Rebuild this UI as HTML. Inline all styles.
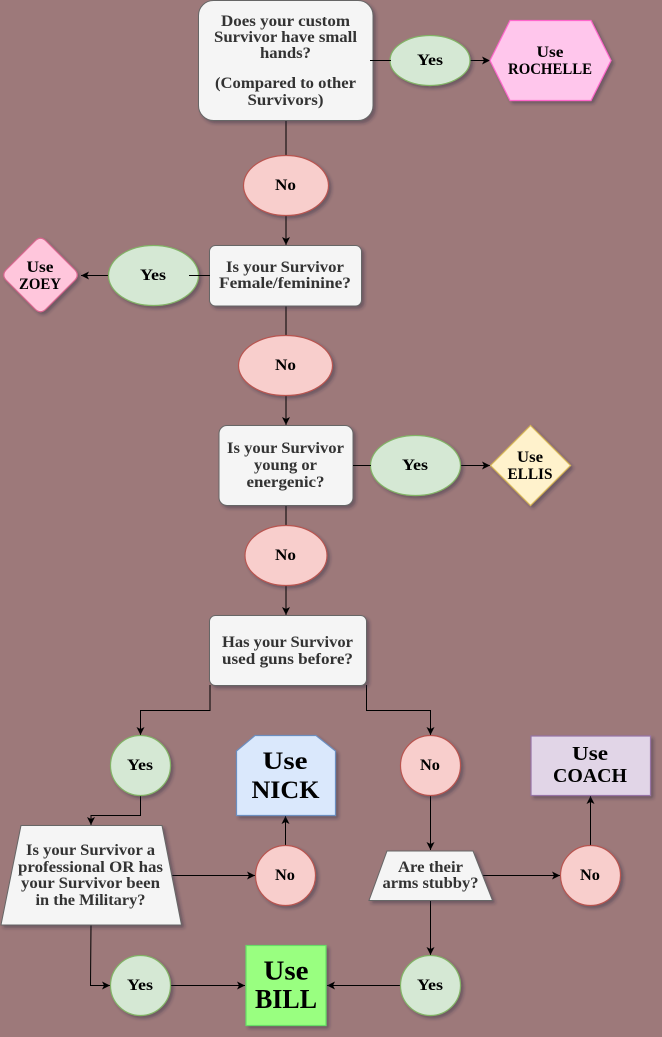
<!DOCTYPE html>
<html>
<head>
<meta charset="utf-8">
<style>
html,body{margin:0;padding:0;background:#9d797a;width:662px;height:1037px;overflow:hidden}
svg{display:block}
text{font-family:"Liberation Serif",serif;font-weight:bold;text-anchor:middle;font-size:15.5px;fill:#000}
.q text{fill:#333}
.l{fill:none;stroke:#000;stroke-width:1}
.a{marker-end:url(#ah)}
.g{fill:#d5e8d4;stroke:#82b366;stroke-width:1.2}
.r{fill:#f8cecc;stroke:#b85450;stroke-width:1.2}
.w{fill:#f5f5f5;stroke:#666;stroke-width:1}
</style>
</head>
<body>
<svg width="662" height="1037" viewBox="0 0 662 1037" xmlns="http://www.w3.org/2000/svg">
<defs>
<marker id="ah" markerUnits="userSpaceOnUse" markerWidth="9" markerHeight="9" refX="8" refY="4" orient="auto">
<path d="M8,4 L0,0 L2,4 L0,8 Z" fill="#000"/>
</marker>
<filter id="s" x="-20%" y="-20%" width="150%" height="150%">
<feDropShadow dx="2.5" dy="2.5" stdDeviation="1.5" flood-color="#2a2040" flood-opacity=".4"/>
</filter>
</defs>

<g class="l">
<path d="M286 120V155"/>
<path class="a" d="M286 215V245"/>
<path class="a" d="M470 60.5H490"/>
<path class="a" d="M108 275.5H81"/>
<path d="M286 306V335"/>
<path class="a" d="M286 395V425"/>
<path class="a" d="M460 465.5H490"/>
<path d="M286 505V525"/>
<path class="a" d="M286 585V615"/>
<path class="a" d="M210 685V710.5H140.5V735"/>
<path class="a" d="M366.5 685V710.5H430.5V735"/>
<path class="a" d="M140.5 795V815.5H91V825"/>
<path class="a" d="M171 875.5H255"/>
<path class="a" d="M285.5 845V816"/>
<path class="a" d="M91 925L90.5 985.5H110"/>
<path class="a" d="M170 985.5H245"/>
<path class="a" d="M400 985.5H327"/>
<path class="a" d="M430.5 795V850"/>
<path class="a" d="M430.5 900V955"/>
<path class="a" d="M483 875.5H560"/>
<path class="a" d="M590.5 845V796"/>
</g>

<g filter="url(#s)">
<rect class="w" x="198.5" y="0.5" width="174.5" height="120" rx="15"/>
<rect class="w" x="209.5" y="245.5" width="152" height="60.5" rx="6"/>
<rect class="w" x="219" y="425.5" width="134" height="80" rx="8"/>
<rect class="w" x="209.5" y="615.5" width="157" height="70" rx="6"/>
<path class="w" d="M21 825.5H162L181.5 925H1Z"/>
<path class="w" d="M387 851H473L492.5 900.5H369Z"/>

<ellipse class="g" cx="430" cy="60.5" rx="40" ry="25"/>
<ellipse class="g" cx="153.5" cy="275.5" rx="45" ry="30"/>
<ellipse class="g" cx="415.5" cy="465.5" rx="45" ry="30"/>
<circle class="g" cx="140.5" cy="765.5" r="30"/>
<circle class="g" cx="140.5" cy="985.5" r="30"/>
<circle class="g" cx="430.5" cy="985.5" r="30"/>

<ellipse class="r" cx="286" cy="185.5" rx="42.5" ry="30"/>
<ellipse class="r" cx="285.5" cy="365.5" rx="47" ry="30"/>
<ellipse class="r" cx="286" cy="555.5" rx="41" ry="30"/>
<circle class="r" cx="430.5" cy="765.5" r="30"/>
<circle class="r" cx="285.5" cy="875.5" r="30"/>
<circle class="r" cx="590.5" cy="875.5" r="30"/>

<path d="M490 60.5L510 20.5H591L611 60.5L591 100.5H510Z" fill="#ffc6ec" stroke="#ff66cc" stroke-width="1.2"/>
<path d="M35 241Q40.5 235.5 46 241L74.5 269.5Q80 275 74.5 280.5L46 309Q40.5 314.5 35 309L6.5 280.5Q1 275 6.5 269.5Z" fill="#ffc6dc" stroke="#d9668f" stroke-width="1.2"/>
<path d="M530.5 425.5L570.5 465.5L530.5 505.5L490.5 465.5Z" fill="#fff2cc" stroke="#d6b656" stroke-width="1.2"/>
<path d="M236.5 751L255 735.5H316L335.5 751V815.5H236.5Z" fill="#dae8fc" stroke="#6c8ebf" stroke-width="1.2"/>
<rect x="246" y="945.5" width="80" height="80" fill="#99ff80" stroke="#66dd66" stroke-width="1.2"/>
<rect x="531" y="736" width="119.5" height="59.5" fill="#e1d5e7" stroke="#9673a6" stroke-width="1.2"/>
</g>

<g class="l">
<path d="M370 60.5H391"/>
<path d="M189 275.5H210"/>
<path d="M353 465.5H371"/>
</g>

<g class="q">
<text x="285.5" y="26" textLength="129" lengthAdjust="spacingAndGlyphs">Does your custom</text>
<text x="285.5" y="42" textLength="143" lengthAdjust="spacingAndGlyphs">Survivor have small</text>
<text x="285.5" y="58" textLength="51" lengthAdjust="spacingAndGlyphs">hands?</text>
<text x="285.5" y="88" textLength="141" lengthAdjust="spacingAndGlyphs">(Compared to other</text>
<text x="285.5" y="105" textLength="76" lengthAdjust="spacingAndGlyphs">Survivors)</text>
<text x="285" y="272" textLength="118" lengthAdjust="spacingAndGlyphs">Is your Survivor</text>
<text x="285" y="288" textLength="132" lengthAdjust="spacingAndGlyphs">Female/feminine?</text>
<text x="285.5" y="453" textLength="117" lengthAdjust="spacingAndGlyphs">Is your Survivor</text>
<text x="285.5" y="470" textLength="63" lengthAdjust="spacingAndGlyphs">young or</text>
<text x="285.5" y="487" textLength="78" lengthAdjust="spacingAndGlyphs">energenic?</text>
<text x="287.5" y="647" textLength="131" lengthAdjust="spacingAndGlyphs">Has your Survivor</text>
<text x="287.5" y="664" textLength="131" lengthAdjust="spacingAndGlyphs">used guns before?</text>
<text x="90.5" y="855" textLength="129" lengthAdjust="spacingAndGlyphs">Is your Survivor a</text>
<text x="90.5" y="872" textLength="145" lengthAdjust="spacingAndGlyphs">professional OR has</text>
<text x="90.5" y="888" textLength="139" lengthAdjust="spacingAndGlyphs">your Survivor been</text>
<text x="90.5" y="905" textLength="110" lengthAdjust="spacingAndGlyphs">in the Military?</text>
<text x="430.5" y="872" textLength="65" lengthAdjust="spacingAndGlyphs">Are their</text>
<text x="430.5" y="888" textLength="96" lengthAdjust="spacingAndGlyphs">arms stubby?</text>
</g>

<text x="430" y="65" textLength="26" lengthAdjust="spacingAndGlyphs">Yes</text>
<text x="153" y="280" textLength="26" lengthAdjust="spacingAndGlyphs">Yes</text>
<text x="415" y="470" textLength="26" lengthAdjust="spacingAndGlyphs">Yes</text>
<text x="140" y="770" textLength="26" lengthAdjust="spacingAndGlyphs">Yes</text>
<text x="140" y="990" textLength="26" lengthAdjust="spacingAndGlyphs">Yes</text>
<text x="430" y="990" textLength="26" lengthAdjust="spacingAndGlyphs">Yes</text>
<text x="285.5" y="190" textLength="21" lengthAdjust="spacingAndGlyphs">No</text>
<text x="285.5" y="370" textLength="21" lengthAdjust="spacingAndGlyphs">No</text>
<text x="285.5" y="560" textLength="21" lengthAdjust="spacingAndGlyphs">No</text>
<text x="430" y="770" textLength="20" lengthAdjust="spacingAndGlyphs">No</text>
<text x="285" y="880" textLength="20" lengthAdjust="spacingAndGlyphs">No</text>
<text x="590" y="880" textLength="20" lengthAdjust="spacingAndGlyphs">No</text>

<text x="550" y="57" textLength="27" lengthAdjust="spacingAndGlyphs">Use</text>
<text x="550" y="74" textLength="84" lengthAdjust="spacingAndGlyphs">ROCHELLE</text>
<text x="40" y="272" textLength="27" lengthAdjust="spacingAndGlyphs">Use</text>
<text x="40" y="289" textLength="42" lengthAdjust="spacingAndGlyphs">ZOEY</text>
<text x="530" y="462" textLength="26" lengthAdjust="spacingAndGlyphs">Use</text>
<text x="530" y="479" textLength="45" lengthAdjust="spacingAndGlyphs">ELLIS</text>
<text x="285" y="769" style="font-size:25px" textLength="45" lengthAdjust="spacingAndGlyphs">Use</text>
<text x="285.5" y="798" style="font-size:25px" textLength="68" lengthAdjust="spacingAndGlyphs">NICK</text>
<text x="286" y="979.5" style="font-size:27px" textLength="45" lengthAdjust="spacingAndGlyphs">Use</text>
<text x="286" y="1008" style="font-size:27px" textLength="62" lengthAdjust="spacingAndGlyphs">BILL</text>
<text x="590" y="760" style="font-size:20px" textLength="36" lengthAdjust="spacingAndGlyphs">Use</text>
<text x="590" y="782" style="font-size:20px" textLength="74" lengthAdjust="spacingAndGlyphs">COACH</text>
</svg>
</body>
</html>
